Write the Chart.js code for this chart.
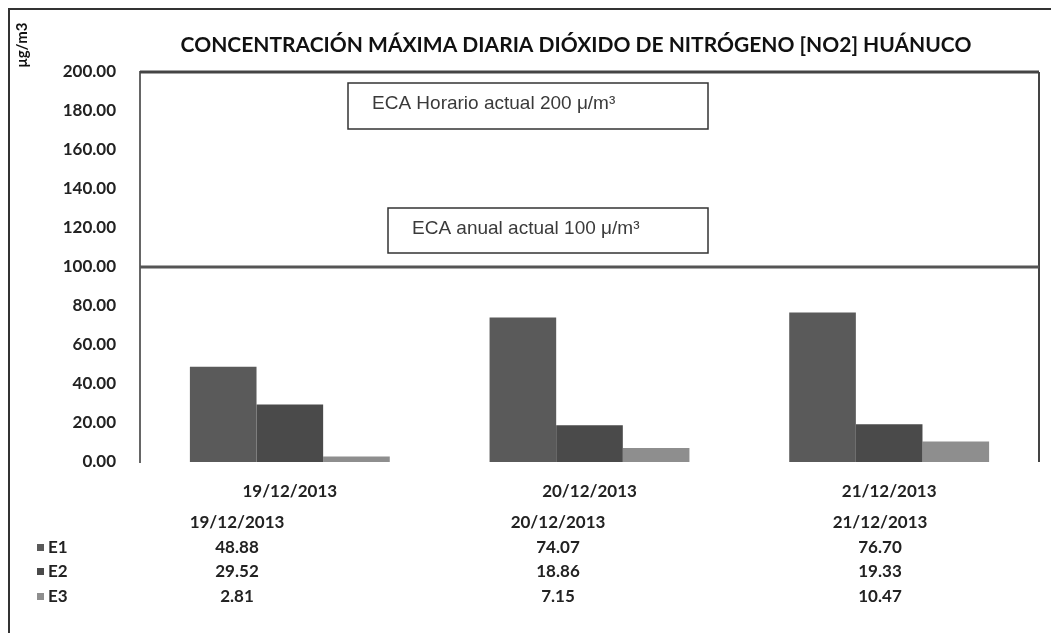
<!DOCTYPE html>
<html>
<head>
<meta charset="utf-8">
<script src="https://cdn.jsdelivr.net/npm/chart.js@4"></script>
<style>
  body { margin: 0; background: #fff; }
  #wrap { width: 1051px; height: 633px; }
</style>
</head>
<body>
<div id="wrap"><canvas id="Chart" width="1051" height="633"></canvas></div>
<script>
const title = 'CONCENTRACIÓN MÁXIMA DIARIA DIÓXIDO DE NITRÓGENO [NO2] HUÁNUCO';
const dates = ['19/12/2013', '20/12/2013', '21/12/2013'];
const seriesNames = ['E1', 'E2', 'E3'];
const e1 = [48.88, 74.07, 76.70];
const e2 = [29.52, 18.86, 19.33];
const e3 = [2.81, 7.15, 10.47];
const yTicks = [0, 20, 40, 60, 80, 100, 120, 140, 160, 180, 200];
const limitLine = 100;
const notes = ['ECA Horario actual 200 μ/m³', 'ECA anual actual 100 μ/m³'];

const colors = ['#5a5a5a', '#4a4a4a', '#8e8e8e'];
const allSeries = [e1, e2, e3];
const labelFont = 'Lato, "Open Sans", sans-serif';

// frame, title, limit line, note boxes and the data table under the chart
const extras = {
  id: 'extras',
  afterDraw(chart) {
    const ctx = chart.ctx;
    const a = chart.chartArea;
    const y = chart.scales.y;
    ctx.save();

    // outer frame (top + left)
    ctx.strokeStyle = '#333';
    ctx.lineWidth = 2;
    ctx.beginPath();
    ctx.moveTo(9, 633);
    ctx.lineTo(9, 9);
    ctx.lineTo(1051, 9);
    ctx.stroke();

    // plot box top + right
    ctx.strokeStyle = '#444';
    ctx.lineWidth = 3;
    ctx.beginPath();
    ctx.moveTo(a.left, a.top);
    ctx.lineTo(a.right, a.top);
    ctx.stroke();
    ctx.lineWidth = 2;
    ctx.beginPath();
    ctx.moveTo(a.right, a.top);
    ctx.lineTo(a.right, a.bottom);
    ctx.stroke();

    // limit line at 100
    const ly = y.getPixelForValue(limitLine);
    ctx.strokeStyle = '#555';
    ctx.lineWidth = 3;
    ctx.beginPath();
    ctx.moveTo(a.left, ly);
    ctx.lineTo(a.right, ly);
    ctx.stroke();

    // title
    ctx.fillStyle = '#111';
    ctx.font = 'bold 21px ' + labelFont;
    ctx.textAlign = 'center';
    ctx.textBaseline = 'middle';
    ctx.fillText(title, 576, 45);

    // y unit label
    ctx.save();
    ctx.translate(22, 45);
    ctx.rotate(-Math.PI / 2);
    ctx.font = 'bold 15px ' + labelFont;
    ctx.fillText('μg/m3', 0, 0);
    ctx.restore();

    // note boxes
    const boxes = [
      { x: 348, y: 83, w: 360, h: 46 },
      { x: 388, y: 208, w: 320, h: 45 }
    ];
    ctx.font = '19px "Liberation Sans", Arial, sans-serif';
    ctx.textAlign = 'left';
    boxes.forEach((b, i) => {
      ctx.fillStyle = '#fff';
      ctx.fillRect(b.x, b.y, b.w, b.h);
      ctx.strokeStyle = '#333';
      ctx.lineWidth = 1.5;
      ctx.strokeRect(b.x, b.y, b.w, b.h);
      ctx.fillStyle = '#3a3a3a';
      ctx.fillText(notes[i], b.x + 24, b.y + b.h / 2 - 2);
    });

    // data table
    const cols = [237, 558, 880];
    const rows = [523, 548, 572, 597];
    ctx.fillStyle = '#222';
    ctx.font = 'bold 17px ' + labelFont;
    ctx.textAlign = 'center';
    dates.forEach((d, i) => ctx.fillText(d, cols[i], rows[0]));
    seriesNames.forEach((s, r) => {
      ctx.fillStyle = colors[r];
      ctx.fillRect(37, rows[r + 1] - 4, 7, 7);
      ctx.fillStyle = '#222';
      ctx.textAlign = 'left';
      ctx.fillText(s, 48, rows[r + 1]);
      ctx.textAlign = 'center';
      allSeries[r].forEach((v, i) => ctx.fillText(v.toFixed(2), cols[i], rows[r + 1]));
    });
    ctx.restore();
  }
};

new Chart(document.getElementById('Chart').getContext('2d'), {
  type: 'bar',
  data: {
    labels: dates,
    datasets: seriesNames.map((n, i) => ({
      label: n,
      data: allSeries[i],
      backgroundColor: colors[i],
      borderWidth: 0,
      barPercentage: 1,
      categoryPercentage: 0.667
    }))
  },
  options: {
    responsive: false,
    animation: false,
    layout: { padding: { top: 72, right: 12, bottom: 131, left: 0 } },
    plugins: {
      legend: { display: false },
      tooltip: { enabled: false }
    },
    scales: {
      x: {
        grid: { display: false, drawTicks: false },
        border: { display: false },
        afterFit(s) { s.height = 40; },
        ticks: {
          padding: 19,
          color: '#222',
          font: { family: labelFont, size: 17, weight: 'bold' }
        }
      },
      y: {
        min: 0,
        max: 200,
        afterFit(s) { s.width = 140; },
        afterBuildTicks(s) { s.ticks = yTicks.map(v => ({ value: v })); },
        grid: { display: false, drawTicks: false },
        border: { display: true, color: '#666', width: 2 },
        ticks: {
          padding: 24,
          color: '#222',
          font: { family: labelFont, size: 17, weight: 'bold' },
          callback: v => Number(v).toFixed(2)
        }
      }
    }
  },
  plugins: [extras]
});
</script>
</body>
</html>
